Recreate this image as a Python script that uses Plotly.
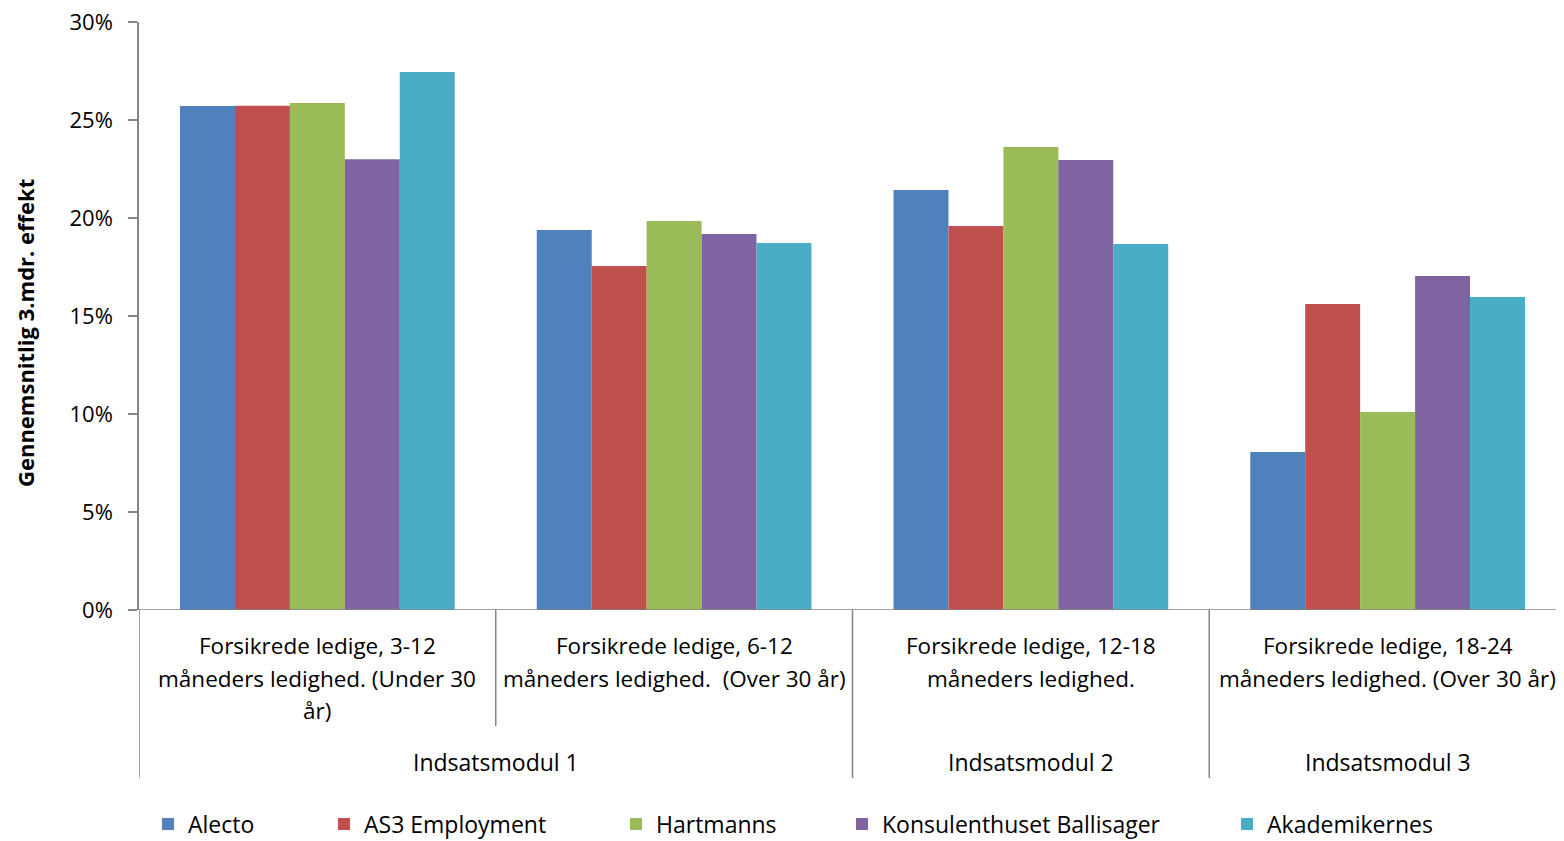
import plotly.graph_objects as go

# ---- data ----
categories = ["Forsikrede ledige, 3-12 måneders ledighed. (Under 30 år)",
              "Forsikrede ledige, 6-12 måneders ledighed.  (Over 30 år)",
              "Forsikrede ledige, 12-18 måneders ledighed.",
              "Forsikrede ledige, 18-24 måneders ledighed. (Over 30 år)"]
category_lines = [["Forsikrede ledige, 3-12", "måneders ledighed. (Under 30", "år)"],
                  ["Forsikrede ledige, 6-12", "måneders ledighed.  (Over 30 år)"],
                  ["Forsikrede ledige, 12-18", "måneders ledighed."],
                  ["Forsikrede ledige, 18-24", "måneders ledighed. (Over 30 år)"]]
modules = ["Indsatsmodul 1", "Indsatsmodul 2", "Indsatsmodul 3"]
module_spans = [(0, 1), (2, 2), (3, 3)]

series_names = ["Alecto", "AS3 Employment", "Hartmanns", "Konsulenthuset Ballisager", "Akademikernes"]
alecto = [0.2571, 0.1939, 0.2143, 0.0806]
as3 = [0.2573, 0.1755, 0.1959, 0.1561]
hartmanns = [0.2587, 0.1985, 0.2362, 0.1010]
ballisager = [0.2300, 0.1918, 0.2296, 0.1704]
akademikernes = [0.2745, 0.1872, 0.1867, 0.1597]
series_values = [alecto, as3, hartmanns, ballisager, akademikernes]
colors = ["#4F81BD", "#C0504D", "#9BBB59", "#8064A2", "#4BACC6"]

y_ticks = [0, 0.05, 0.10, 0.15, 0.20, 0.25, 0.30]

FONT = "Open Sans"
OFF = 8  # page body margin
PLOT_RIGHT = 1566
W, H = PLOT_RIGHT - OFF, 841 - OFF
L, R, T, B = 139 - OFF, 0, 22 - OFF, 841 - 610
PW = W - L - R
PH = H - T - B

def px_x(p):
    return (p - OFF - L) / PW

def px_y(p):
    return (H - B - (p - OFF)) / PH

fig = go.Figure()
legend_px = [148, 324, 616, 842, 1227]
for i, (name, vals, col) in enumerate(zip(series_names, series_values, colors)):
    lg = "legend" if i == 0 else f"legend{i+1}"
    fig.add_trace(go.Bar(name=name, x=list(range(len(categories))), y=vals,
                         marker=dict(color=col, line=dict(width=0)),
                         legend=lg, hovertext=categories))

layout_legends = {}
for i, lx in enumerate(legend_px):
    key = "legend" if i == 0 else f"legend{i+1}"
    layout_legends[key] = dict(x=px_x(lx), y=px_y(824), xanchor="left", yanchor="middle",
                               orientation="h", font=dict(family=FONT, size=23, color="#000"),
                               bgcolor="rgba(0,0,0,0)", borderwidth=0, itemwidth=30)

fig.update_layout(
    width=W, height=H,
    margin=dict(l=L, r=R, t=T, b=B, pad=0, autoexpand=False),
    paper_bgcolor="white", plot_bgcolor="white",
    barmode="group", bargap=0.23, bargroupgap=0,
    showlegend=True,
    font=dict(family=FONT, size=23, color="#000"),
    **layout_legends,
)
fig.update_xaxes(range=[-0.5, 3.5], showticklabels=False, showgrid=False, zeroline=False,
                 showline=False, ticks="", fixedrange=True)
fig.update_yaxes(range=[0, 0.30], tickvals=y_ticks, tickformat=".0%", showgrid=False,
                 zeroline=False, showline=True, linecolor="#868686", linewidth=1.5,
                 ticks="outside", ticklen=9, tickcolor="#868686", tickwidth=1.5,
                 ticklabelstandoff=11, ticklabeloverflow="allow",
                 tickfont=dict(family=FONT, size=22, color="#000"))

# y axis title
fig.add_annotation(xref="paper", yref="paper", x=px_x(25), y=px_y(333), text="<b>Gennemsnitlig 3.mdr. effekt</b>",
                   textangle=-90, showarrow=False, xanchor="center", yanchor="middle",
                   font=dict(family=FONT, size=22, color="#000"))

# baseline axis line (with tick extension)
fig.add_shape(type="line", xref="paper", yref="y", x0=px_x(130), x1=1, y0=0, y1=0,
              line=dict(color="#868686", width=1.5))

# category labels
line_y = [645, 678, 710]
for ci, lines in enumerate(category_lines):
    for li, txt in enumerate(lines):
        fig.add_annotation(xref="x", yref="paper", x=ci, y=px_y(line_y[li]), text=txt,
                           showarrow=False, xanchor="center", yanchor="middle",
                           font=dict(family=FONT, size=22.5, color="#000"))

# dividers
for b in range(len(categories)):
    is_module_edge = any(s == b for s, e in module_spans)
    fig.add_shape(type="line", xref="x", yref="paper", x0=b - 0.5, x1=b - 0.5,
                  y0=0, y1=px_y(778 if is_module_edge else 726),
                  line=dict(color="#868686", width=1.5))

# module labels
for name, (s, e) in zip(modules, module_spans):
    fig.add_annotation(xref="x", yref="paper", x=(s + e) / 2, y=px_y(762), text=name,
                       showarrow=False, xanchor="center", yanchor="middle",
                       font=dict(family=FONT, size=23, color="#000"))

fig.write_html("out.html")
